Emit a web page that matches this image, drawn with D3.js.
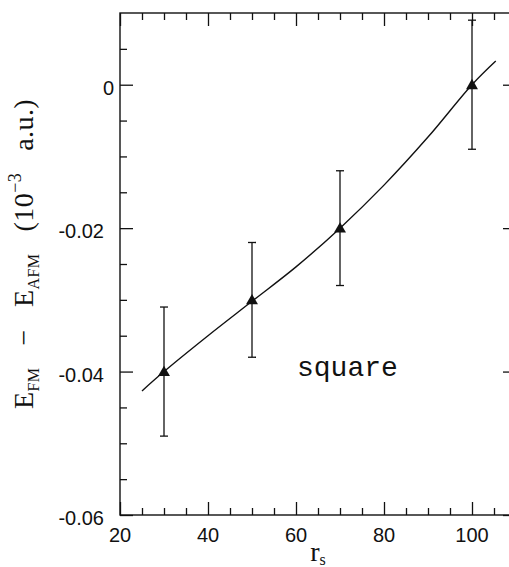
<!DOCTYPE html>
<html>
<head>
<meta charset="utf-8">
<script src="https://cdn.jsdelivr.net/npm/d3@7"></script>
<style>
  body { margin: 0; background: #fff; }
  svg { display: block; }
</style>
</head>
<body>
<svg id="chart"></svg>
<script>
// data
const rs = [30, 50, 70, 100];
const energy = [-0.040, -0.030, -0.020, 0.000];
const errBar = [0.009, 0.008, 0.008, 0.009];

// fitted curve
const fitRs = [25, 30, 40, 50, 60, 70, 80, 90, 100, 105.4];
const fitEnergy = [-0.0427, -0.0400, -0.0350, -0.0302, -0.0254, -0.0200, -0.0140, -0.0073, 0.0000, 0.0033];

// ticks
const xMajor = [20, 40, 60, 80, 100];
const xMinor = [25, 30, 35, 45, 50, 55, 65, 70, 75, 85, 90, 95, 105];
const yMajor = [-0.06, -0.04, -0.02, 0];
const yMinor = [-0.055, -0.05, -0.045, -0.035, -0.03, -0.025, -0.015, -0.01, -0.005, 0.005];
const yTickLabels = ['-0.06', '-0.04', '-0.02', '0'];
const xTickLabels = ['20', '40', '60', '80', '100'];

const width = 509, height = 567;
const plotL = 120, plotR = 516, plotT = 13, plotB = 515;

const svg = d3.select('#chart').attr('width', width).attr('height', height);

const x = d3.scaleLinear().domain([20, 110]).range([plotL, plotR]);
const y = d3.scaleLinear().domain([-0.06, 0.01]).range([plotB, plotT]);

const ink = '#111';

// frame
svg.append('rect')
  .attr('x', plotL).attr('y', plotT)
  .attr('width', plotR - plotL).attr('height', plotB - plotT)
  .attr('fill', 'none').attr('stroke', ink).attr('stroke-width', 1.4);

// inward ticks on all four sides
function ticks(axisFn, scale, values, size, transform) {
  const g = svg.append('g')
    .attr('transform', transform)
    .call(axisFn(scale).tickValues(values).tickSizeInner(size).tickSizeOuter(0).tickFormat(''));
  g.select('.domain').remove();
  g.selectAll('.tick line').attr('stroke', ink).attr('stroke-width', 1.3);
}
ticks(d3.axisBottom, x, xMajor, -13, `translate(0,${plotB})`);
ticks(d3.axisBottom, x, xMinor, -7, `translate(0,${plotB})`);
ticks(d3.axisTop, x, xMajor, -13, `translate(0,${plotT})`);
ticks(d3.axisTop, x, xMinor, -7, `translate(0,${plotT})`);
ticks(d3.axisLeft, y, yMajor, -13, `translate(${plotL},0)`);
ticks(d3.axisLeft, y, yMinor, -7, `translate(${plotL},0)`);
ticks(d3.axisRight, y, yMajor, -13, `translate(${plotR},0)`);
ticks(d3.axisRight, y, yMinor, -7, `translate(${plotR},0)`);

// tick labels
svg.append('g').selectAll('text')
  .data(yMajor)
  .join('text')
  .attr('x', (d, i) => yTickLabels[i] === '0' ? plotL - 6 : plotL - 16)
  .attr('y', d => y(d) + 10)
  .attr('text-anchor', 'end')
  .attr('font-family', '"Liberation Sans", Arial, sans-serif')
  .attr('font-size', 20)
  .attr('fill', ink)
  .text((d, i) => yTickLabels[i]);

svg.append('g').selectAll('text')
  .data(xMajor)
  .join('text')
  .attr('x', d => x(d))
  .attr('y', 542)
  .attr('text-anchor', 'middle')
  .attr('font-family', '"Liberation Sans", Arial, sans-serif')
  .attr('font-size', 20)
  .attr('fill', ink)
  .text((d, i) => xTickLabels[i]);

// fitted curve
const line = d3.line()
  .x((d, i) => x(fitRs[i]))
  .y(d => y(d))
  .curve(d3.curveCatmullRom);

svg.append('path')
  .datum(fitEnergy)
  .attr('d', line)
  .attr('fill', 'none')
  .attr('stroke', ink)
  .attr('stroke-width', 1.4);

// error bars
const pts = rs.map((r, i) => ({ r, e: energy[i], err: errBar[i] }));
const eb = svg.append('g').attr('stroke', ink).attr('stroke-width', 1.3);
eb.selectAll('.stem').data(pts).join('line')
  .attr('x1', d => x(d.r)).attr('x2', d => x(d.r))
  .attr('y1', d => y(d.e - d.err)).attr('y2', d => y(d.e + d.err));
eb.selectAll('.capTop').data(pts).join('line')
  .attr('x1', d => x(d.r) - 4).attr('x2', d => x(d.r) + 4)
  .attr('y1', d => y(d.e + d.err)).attr('y2', d => y(d.e + d.err));
eb.selectAll('.capBot').data(pts).join('line')
  .attr('x1', d => x(d.r) - 4).attr('x2', d => x(d.r) + 4)
  .attr('y1', d => y(d.e - d.err)).attr('y2', d => y(d.e - d.err));

// triangles
svg.append('g').selectAll('path')
  .data(pts)
  .join('path')
  .attr('d', d3.symbol(d3.symbolTriangle, 62))
  .attr('transform', d => `translate(${x(d.r)},${y(d.e) + 1})`)
  .attr('fill', ink);

// "square" label
svg.append('text')
  .attr('x', 297).attr('y', 376)
  .attr('font-family', '"Liberation Mono", "Courier New", monospace')
  .attr('font-size', 28)
  .attr('fill', ink)
  .text('square');

// axis titles
const serif = '"Liberation Serif", "Times New Roman", serif';

const yt = svg.append('text')
  .attr('transform', 'translate(33,254) rotate(-90)')
  .attr('text-anchor', 'middle')
  .attr('font-family', serif)
  .attr('font-size', 28)
  .attr('letter-spacing', 0.4)
  .attr('fill', ink)
  .style('white-space', 'pre');
yt.append('tspan').text('E');
yt.append('tspan').attr('font-size', 16).attr('dy', 6).text('FM');
yt.append('tspan').attr('dy', -6).text('   \u2212   E');
yt.append('tspan').attr('font-size', 16).attr('dy', 6).text('AFM');
yt.append('tspan').attr('dy', -6).text('   (10');
yt.append('tspan').attr('font-size', 18).attr('dy', -12).text('\u22123');
yt.append('tspan').attr('dy', 12).text('   a.u.)');

const xt = svg.append('text')
  .attr('x', 318).attr('y', 561)
  .attr('text-anchor', 'middle')
  .attr('font-family', serif)
  .attr('font-size', 28)
  .attr('fill', ink);
xt.append('tspan').text('r');
xt.append('tspan').attr('font-size', 16).attr('dy', 4).text('s');
</script>
</body>
</html>
